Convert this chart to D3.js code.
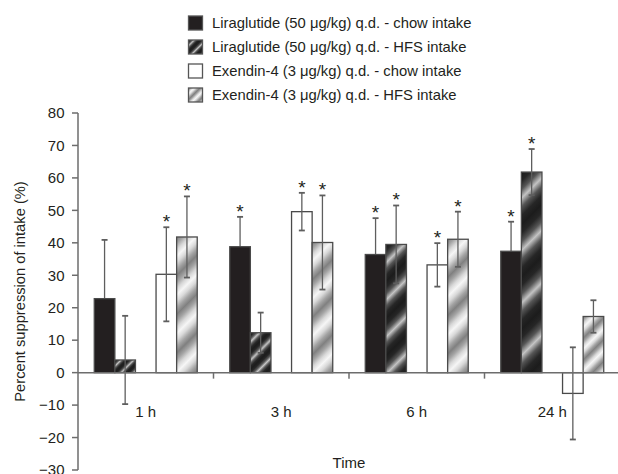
<!DOCTYPE html>
<html>
<head>
<meta charset="utf-8">
<script src="https://cdn.jsdelivr.net/npm/d3@7"></script>
<style>
  body { margin: 0; background: #fff; }
  text { font-family: "Liberation Sans", Arial, sans-serif; fill: #231f20; }
</style>
</head>
<body>
<svg width="618" height="474"></svg>
<script>
// tijdpunten en reeksen
const times = ["1 h", "3 h", "6 h", "24 h"];
const seriesNames = [
  "Liraglutide (50 \u03bcg/kg) q.d. - chow intake",
  "Liraglutide (50 \u03bcg/kg) q.d. - HFS intake",
  "Exendin-4 (3 \u03bcg/kg) q.d. - chow intake",
  "Exendin-4 (3 \u03bcg/kg) q.d. - HFS intake"
];
const liraChow = [22.8, 38.8, 36.4, 37.4];
const liraChowErr = [18.1, 9.2, 11.2, 9.1];
const liraChowSig = [false, true, true, true];
const liraHfs = [3.9, 12.3, 39.5, 61.8];
const liraHfsErr = [13.6, 6.2, 12.0, 7.1];
const liraHfsSig = [false, false, true, true];
const exChow = [30.3, 49.6, 33.2, -6.4];
const exChowErr = [14.5, 5.8, 6.7, 14.2];
const exChowSig = [true, true, true, false];
const exHfs = [41.8, 40.1, 41.1, 17.3];
const exHfsErr = [12.5, 14.5, 8.5, 5.0];
const exHfsSig = [true, true, true, false];
const yTicks = [-30, -20, -10, 0, 10, 20, 30, 40, 50, 60, 70, 80];

const svg = d3.select("svg");
const defs = svg.append("defs");

// slot "gap" blijft leeg tussen liraglutide en exendin
const keys = ["lc", "lh", "gap", "ec", "eh"];
const series = [
  {key: "lc", name: seriesNames[0], vals: liraChow, err: liraChowErr, sig: liraChowSig, fill: "solid"},
  {key: "lh", name: seriesNames[1], vals: liraHfs, err: liraHfsErr, sig: liraHfsSig, fill: "dark"},
  {key: "ec", name: seriesNames[2], vals: exChow, err: exChowErr, sig: exChowSig, fill: "white"},
  {key: "eh", name: seriesNames[3], vals: exHfs, err: exHfsErr, sig: exHfsSig, fill: "light"}
];

const x0 = d3.scaleBand().domain(times).range([78, 620]);
const x1 = d3.scaleBand().domain(keys).range([0, x0.bandwidth()]).paddingOuter(0.79);
const y = d3.scaleLinear().domain([-30, 80]).range([470, 113]);

const stopsFor = {
  dark: ["#1c1c1c", "#262626", "#555", "#c4c4c4", "#555", "#262626", "#1c1c1c"],
  light: ["#808080", "#a4a4a4", "#d8d8d8", "#f6f6f6", "#d8d8d8", "#a4a4a4", "#808080"]
};
let gid = 0;
// diagonale gradient-strepen, periode hangt af van de hoogte van de balk
function stripeFill(kind, bx, by, h) {
  if (kind === "solid") return "#231f20";
  if (kind === "white") return "#fff";
  const p = 7 + h * 0.15;
  const id = "g" + (gid++);
  const grad = defs.append("linearGradient")
    .attr("id", id)
    .attr("gradientUnits", "userSpaceOnUse")
    .attr("spreadMethod", "repeat")
    .attr("x1", bx).attr("y1", by)
    .attr("x2", bx + p / Math.SQRT2).attr("y2", by + p / Math.SQRT2);
  stopsFor[kind].forEach((c, i, a) => {
    grad.append("stop").attr("offset", i / (a.length - 1)).attr("stop-color", c);
  });
  return "url(#" + id + ")";
}

// legenda
const legend = svg.append("g");
series.forEach((s, i) => {
  const ly = 16 + i * 24;
  legend.append("rect")
    .attr("x", 188.5).attr("y", ly).attr("width", 14).attr("height", 14)
    .attr("fill", stripeFill(s.fill, 188.5, ly, 8))
    .attr("stroke", "#555").attr("stroke-width", 1.3);
  legend.append("text")
    .attr("x", 212).attr("y", ly + 7).attr("dy", "0.35em")
    .attr("font-size", 14.8)
    .text(s.name);
});

const plot = svg.append("g");
const errG = plot.append("g");   // foutbalken van de zwarte balken liggen erachter
const barG = plot.append("g");
const topG = plot.append("g");

// balken
series.forEach(s => {
  s.vals.forEach((v, i) => {
    const bx = x0(times[i]) + x1(s.key);
    const top = y(Math.max(0, v));
    const h = Math.abs(y(v) - y(0));
    barG.append("rect")
      .attr("x", bx).attr("y", top)
      .attr("width", x1.bandwidth()).attr("height", h)
      .attr("fill", stripeFill(s.fill, bx, top, h))
      .attr("stroke", "#4a4a4a").attr("stroke-width", 1.3);
  });
});

// foutbalken en sterretjes
series.forEach(s => {
  const g = s.fill === "solid" ? errG : topG;
  s.vals.forEach((v, i) => {
    const cx = x0(times[i]) + x1(s.key) + x1.bandwidth() / 2;
    const hi = y(v + s.err[i]), lo = y(v - s.err[i]);
    g.append("line")
      .attr("x1", cx).attr("x2", cx).attr("y1", hi).attr("y2", lo)
      .attr("stroke", "#5e5e5e").attr("stroke-width", 1.3);
    [hi, lo].forEach(yy => {
      g.append("line")
        .attr("x1", cx - 3).attr("x2", cx + 3).attr("y1", yy).attr("y2", yy)
        .attr("stroke", "#5e5e5e").attr("stroke-width", 1.8);
    });
    if (s.sig[i]) {
      topG.append("text")
        .attr("x", cx).attr("y", hi + 1)
        .attr("text-anchor", "middle")
        .attr("font-size", 19)
        .text("*");
    }
  });
});

// y-as
const yAxis = svg.append("g");
yAxis.append("line")
  .attr("x1", 78).attr("x2", 78).attr("y1", y(80)).attr("y2", y(-30))
  .attr("stroke", "#6d6d6d").attr("stroke-width", 1.5);
yTicks.forEach(t => {
  yAxis.append("line")
    .attr("x1", 72).attr("x2", 78).attr("y1", y(t)).attr("y2", y(t))
    .attr("stroke", "#6d6d6d").attr("stroke-width", 1.5);
  yAxis.append("text")
    .attr("x", 64.5).attr("y", y(t)).attr("dy", "0.35em")
    .attr("text-anchor", "end")
    .attr("font-size", 15)
    .text(d3.format("")(t));
});
svg.append("text")
  .attr("transform", "translate(20," + ((y(80) + y(-30)) / 2) + ")rotate(-90)")
  .attr("dy", "0.35em")
  .attr("text-anchor", "middle")
  .attr("font-size", 14.7)
  .text("Percent suppression of intake (%)");

// x-as op nul
const xAxis = svg.append("g");
xAxis.append("line")
  .attr("x1", 78).attr("x2", 620).attr("y1", y(0)).attr("y2", y(0))
  .attr("stroke", "#6d6d6d").attr("stroke-width", 1.5);
times.slice(1).forEach(t => {
  xAxis.append("line")
    .attr("x1", x0(t)).attr("x2", x0(t)).attr("y1", y(0)).attr("y2", y(0) + 6)
    .attr("stroke", "#6d6d6d").attr("stroke-width", 1.5);
});
times.forEach(t => {
  xAxis.append("text")
    .attr("x", x0(t) + x0.bandwidth() / 2).attr("y", 412).attr("dy", "0.35em")
    .attr("text-anchor", "middle")
    .attr("font-size", 15)
    .text(t);
});
svg.append("text")
  .attr("x", (78 + 620) / 2).attr("y", 463).attr("dy", "0.35em")
  .attr("text-anchor", "middle")
  .attr("font-size", 15)
  .text("Time");
</script>
</body>
</html>
